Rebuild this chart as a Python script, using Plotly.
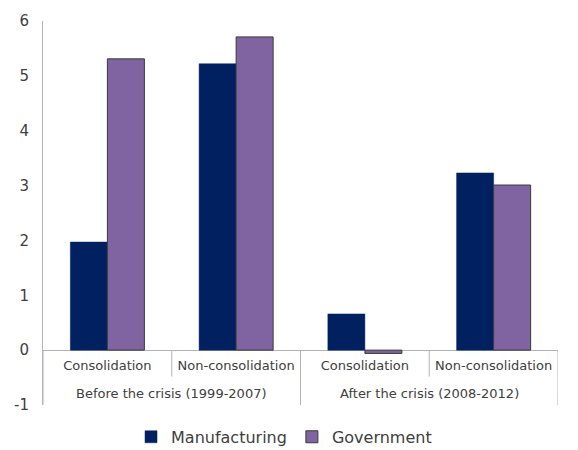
import plotly.graph_objects as go

periods = ["Before the crisis (1999-2007)", "Before the crisis (1999-2007)",
           "After the crisis (2008-2012)", "After the crisis (2008-2012)"]
types = ["Consolidation", "Non-consolidation", "Consolidation", "Non-consolidation"]
manufacturing = [1.97, 5.22, 0.66, 3.23]
government = [5.31, 5.71, -0.06, 3.01]
y_ticks = [-1, 0, 1, 2, 3, 4, 5, 6]
y_tick_labels = ["-1", "0", "1", "2", "3", "4", "5", "6"]

pos = list(range(len(types)))
GRID = "#b3b3b3"

fig = go.Figure()
fig.add_trace(go.Bar(x=pos, y=manufacturing, name="Manufacturing",
                     marker=dict(color="#002060", line=dict(color="#002060", width=0.5))))
fig.add_trace(go.Bar(x=pos, y=government, name="Government",
                     marker=dict(color="#8064A2", line=dict(color="#3a3a3a", width=1))))

# category-axis dividers (table style) at category boundaries
for i in range(len(types) + 1):
    is_group_edge = i == 0 or i == len(types) or periods[i - 1] != periods[i]
    fig.add_shape(type="line", xref="x", yref="y", x0=i - 0.5, x1=i - 0.5,
                  y0=0, y1=-1 if is_group_edge else -0.48,
                  line=dict(color=GRID, width=1), layer="below")

# group labels
seen = []
for p in periods:
    if p not in seen:
        seen.append(p)
for p in seen:
    idx = [i for i, q in enumerate(periods) if q == p]
    fig.add_annotation(x=sum(idx) / len(idx), y=0, xref="x", yref="y", text=p,
                       showarrow=False, yshift=-43, yanchor="middle",
                       font=dict(size=13, color="#404040"))

fig.update_layout(
    width=570, height=442,
    margin=dict(l=35, r=20, t=13, b=45, autoexpand=False),
    paper_bgcolor="white", plot_bgcolor="white",
    barmode="group", bargap=0.425, bargroupgap=0,
    font=dict(family="DejaVu Sans", color="#404040"),
    showlegend=True,
    legend=dict(orientation="h", x=0.468, xanchor="center", y=-0.083, yanchor="middle",
                font=dict(size=16, color="#404040"), traceorder="normal"),
    xaxis=dict(range=[-0.5, len(types) - 0.5], tickvals=pos, ticktext=types,
               anchor="free", position=1 / 7, showline=False, ticks="",
               ticklabelstandoff=6, showgrid=False, zeroline=False,
               tickfont=dict(size=13, color="#404040"), automargin=False),
    yaxis=dict(range=[-1, 6], tickvals=y_ticks, ticktext=y_tick_labels,
               showgrid=False, zeroline=True,
               zerolinecolor=GRID, zerolinewidth=1,
               showline=True, linecolor=GRID, linewidth=1, ticks="",
               ticklabelstandoff=10,
               tickfont=dict(size=15, color="#404040"), automargin=False),
)

fig.write_html("out.html")
